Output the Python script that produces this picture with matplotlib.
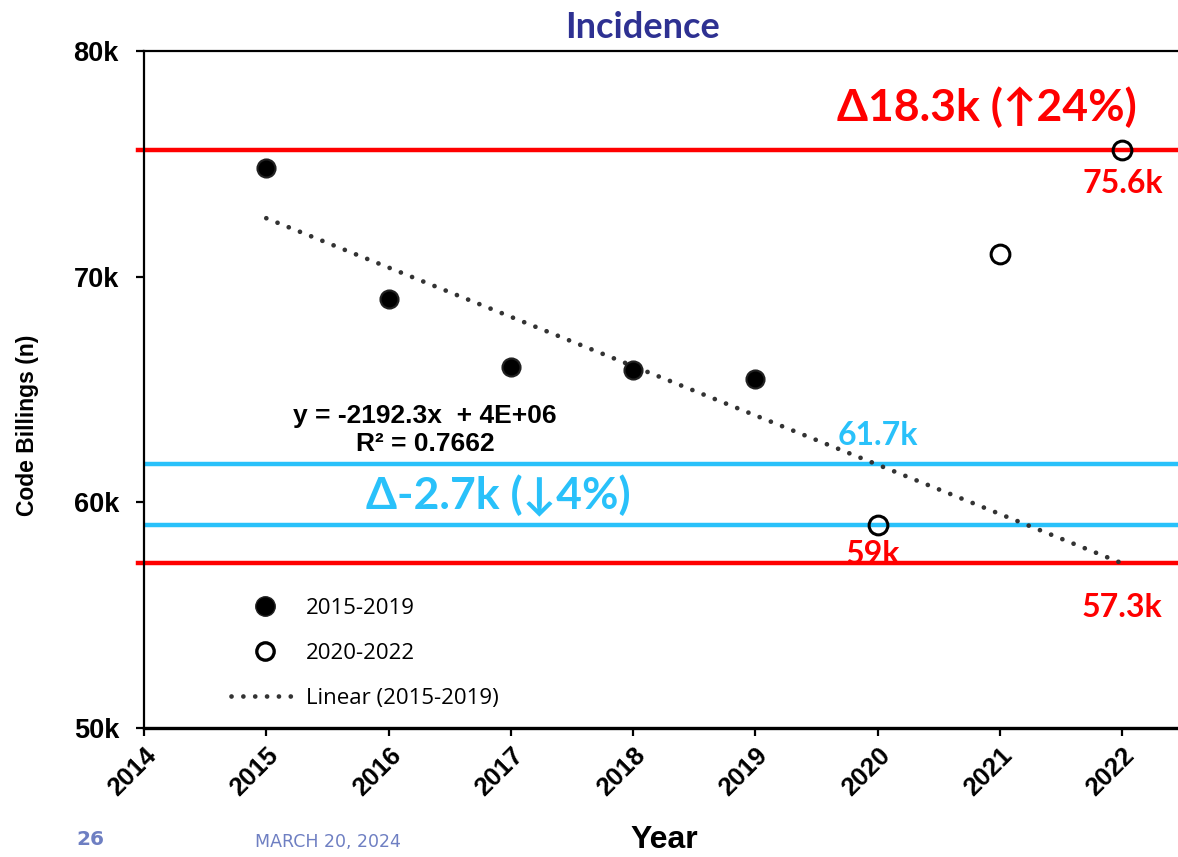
import numpy as np
import matplotlib
matplotlib.use("Agg")
import matplotlib.pyplot as plt
from matplotlib.lines import Line2D
from matplotlib.ticker import FuncFormatter

# --- data -------------------------------------------------------------
years_base = [2015, 2016, 2017, 2018, 2019]
billings_base = [74.8, 69.0, 66.0, 65.85, 65.45]          # thousands
years_recent = [2020, 2021, 2022]
billings_recent = [59.0, 71.0, 75.6]                      # thousands

ref_red = [75.6, 57.3]      # 2022 actual vs. 2022 trend projection
ref_blue = [61.7, 59.0]     # 2020 trend projection vs. 2020 actual
delta_red_label = "Δ18.3k (↑24%)"
delta_blue_label = "Δ-2.7k (↓4%)"
equation_label = "y = -2192.3x  + 4E+06\nR² = 0.7662"

x_ticks = list(range(2014, 2023))
y_ticks = [50, 60, 70, 80]

RED = "#FF0000"
BLUE = "#29C1FA"
NAVY = "#2E3192"
FOOT = "#6E7FC2"

plt.rcParams["font.family"] = ["Liberation Sans", "DejaVu Sans"]
ANN_FONT = ["Lato", "DejaVu Sans"]

fig = plt.figure(figsize=(11.78, 8.57), dpi=100)
ax = fig.add_axes([144 / 1178, 1 - 728 / 857, 1 - 144 / 1178, (728 - 51) / 857])

ax.set_xlim(2014, 2022.455)
ax.set_ylim(50, 80)

# reference lines
for v in ref_red:
    ax.axhline(v, xmin=-0.006, xmax=1, color=RED, lw=3.2, clip_on=False, zorder=2)
for v in ref_blue:
    ax.axhline(v, xmin=0, xmax=1, color=BLUE, lw=3.2, zorder=2)

# linear trend fitted on the 2015-2019 points
coef = np.polyfit(years_base, billings_base, 1)
trend_x = np.array([years_base[0], years_recent[-1]])
trend_y = np.polyval(coef, trend_x)
ax.plot(trend_x, trend_y, color="#333333", lw=3.4, linestyle=(0, (0.01, 2.55)),
        dash_capstyle="round", zorder=3)

# observations
ax.plot(years_base, billings_base, "o", ms=13, color="black", mec="#222222",
        mew=1.5, zorder=4, clip_on=False)
ax.plot(years_recent, billings_recent, "o", ms=13.5, mfc="none", mec="black",
        mew=2.2, zorder=4, clip_on=False)

# axes styling
ax.spines["right"].set_visible(False)
for side in ("left", "top"):
    ax.spines[side].set_linewidth(1.6)
ax.spines["bottom"].set_linewidth(2.4)
ax.set_xticks(x_ticks)
ax.set_yticks(y_ticks)
ax.yaxis.set_major_formatter(FuncFormatter(lambda v, _: f"{int(v)}k"))
ax.tick_params(axis="both", direction="out", length=6, width=1.6)
ax.tick_params(axis="y", labelsize=19.5, pad=12)
ax.tick_params(axis="x", labelsize=18.5, pad=5)
for lab in ax.get_yticklabels():
    lab.set_fontweight("bold")
for lab in ax.get_xticklabels():
    lab.set_fontweight("bold")
    lab.set_rotation(45)
    lab.set_ha("right")
    lab.set_va("top")
    lab.set_rotation_mode("anchor")

# annotations
ax.text(2020.89, 77.5, delta_red_label, color=RED, fontsize=32, fontweight="bold",
        family=ANN_FONT, ha="center", va="center")
ax.text(2016.9, 60.3, delta_blue_label, color=BLUE, fontsize=32, fontweight="bold",
        family=ANN_FONT, ha="center", va="center")
ax.text(years_recent[-1], 74.15, f"{ref_red[0]}k", color=RED, fontsize=23,
        fontweight="bold", family=ANN_FONT, ha="center", va="center")
ax.text(years_recent[-1], 55.35, f"{ref_red[1]}k", color=RED, fontsize=23,
        fontweight="bold", family=ANN_FONT, ha="center", va="center")
ax.text(years_recent[0], 62.95, f"{ref_blue[0]}k", color=BLUE, fontsize=23,
        fontweight="bold", family=ANN_FONT, ha="center", va="center")
ax.text(years_recent[0] - 0.04, 57.7, f"{ref_blue[1]:g}k", color=RED, fontsize=23,
        fontweight="bold", family=ANN_FONT, ha="center", va="center")
ax.text(2016.3, 63.2, equation_label, color="black", fontsize=19, fontweight="bold",
        ha="center", va="center", linespacing=1.2)

# legend
handles = [
    Line2D([], [], marker="o", ls="none", ms=14, color="black", mec="#222222"),
    Line2D([], [], marker="o", ls="none", ms=12.5, mfc="none", mec="black", mew=2.4),
    Line2D([], [], color="#333333", lw=3.4, linestyle=(0, (0.01, 2.5)), dash_capstyle="round"),
]
leg = ax.legend(handles, ["2015-2019", "2020-2022", "Linear (2015-2019)"],
                loc="upper left", bbox_to_anchor=(0.065, 0.222), frameon=False,
                prop={"family": ["Open Sans", "DejaVu Sans"], "size": 16},
                handlelength=3.0, handletextpad=0.35, labelspacing=1.08)

# title, axis titles and footer
fig.text(0.545, 0.968, "Incidence", color=NAVY, fontsize=26, fontweight="bold",
         family=ANN_FONT, ha="center", va="center")
fig.text(0.564, 0.020, "Year", fontsize=23, fontweight="bold", ha="center", va="center")
fig.text(28 / 1178, 0.504, "Code Billings (n)", fontsize=16.5, fontweight="bold",
         rotation=90, ha="center", va="center")
fig.text(90 / 1178, 0.020, "26", color=FOOT, fontsize=14.5, fontweight="bold",
         family=["DejaVu Sans"], ha="center", va="center")
fig.text(328 / 1178, 0.018, "MARCH 20, 2024", color=FOOT, fontsize=12.5,
         family=["DejaVu Sans"], ha="center", va="center")

fig.savefig("out.png", dpi=100)
